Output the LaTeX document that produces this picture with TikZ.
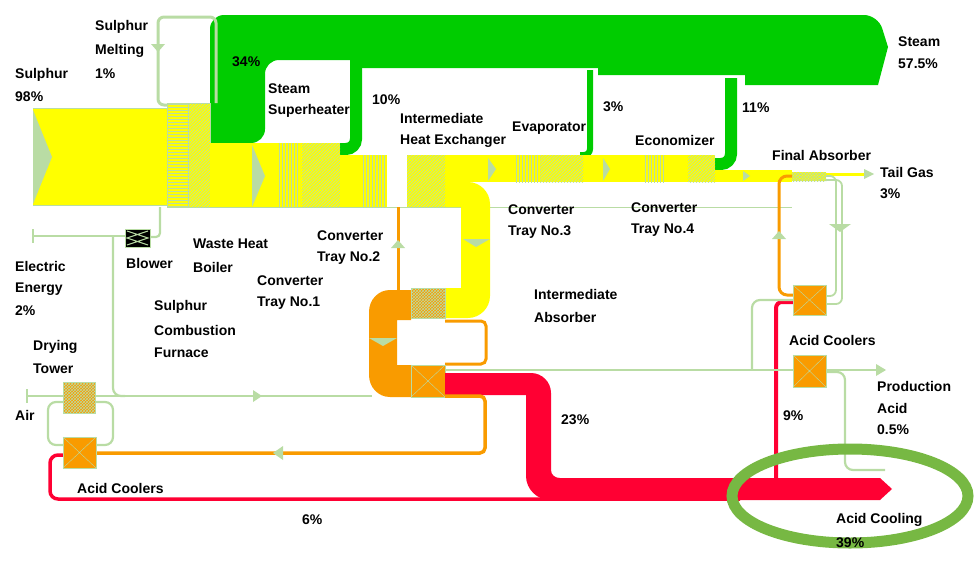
\documentclass[tikz,border=0pt]{standalone}
\usepackage{fontspec}
\setmainfont{Liberation Sans}
\usetikzlibrary{patterns}
\definecolor{Y}{HTML}{FFFF00}
\definecolor{G}{HTML}{00CC00}
\definecolor{LG}{HTML}{B9DCA4}
\definecolor{O}{HTML}{F99B00}
\definecolor{R}{HTML}{FF0033}
\definecolor{EL}{HTML}{77B843}
\begin{document}
\begin{tikzpicture}[x=1pt,y=-1pt,
  lbl/.style={anchor=west,inner sep=0pt,font=\fontsize{14}{16}\selectfont\bfseries,align=left},
  hat/.style={pattern=#1,pattern color=LG},
  lgl/.style={draw=LG,line width=2.2},
  mark/.style={fill=LG},
  obox/.style={fill=O,draw=LG,line width=1}]
\useasboundingbox (0,0) rectangle (980,570);
% ---------- green steam ----------
\fill[G] (210,143) [rounded corners=14] -- (210,15) -- (878,15) [sharp corners] -- (888,47) -- (878,85) -- (745,85) -- (745,75) -- (598,75) -- (598,68) -- (362,68) -- (362,60) [rounded corners=14] -- (265,60) -- (265,143) [sharp corners] -- cycle;
\draw[G,line width=12,rounded corners=10] (356,60) -- (356,149) -- (340,149);
\draw[G,line width=6,rounded corners=6] (590,70) -- (590,155) -- (580,155);
\draw[G,line width=12,rounded corners=10] (731,78) -- (731,164) -- (715,164);
% ---------- yellow gas ----------
\fill[Y] (33,108) rectangle (167,205);
\fill[LG] (33,110) -- (52,157) -- (33,204) -- cycle;
\fill[Y] (167,103) rectangle (210,207);
\fill[hat=horizontal lines] (167,103) rectangle (188,207);
\fill[hat=north east lines] (188,103) rectangle (210,207);
\draw[LG,line width=0.8] (167,103) rectangle (188,207) (188,103) rectangle (210,207);
\fill[Y] (210,143) rectangle (340,207);
\fill[LG] (252,145) -- (265,176) -- (252,207) -- cycle;
\fill[hat=vertical lines] (277,143) rectangle (300,207);
\fill[hat=north east lines] (302,143) rectangle (340,207);
\fill[Y] (340,155) rectangle (445,207);
\fill[hat=vertical lines] (362,155) rectangle (387,207);
\fill[white] (387,155) rectangle (407,207);
\fill[hat=north east lines] (407,155) rectangle (445,207);
\fill[Y] (445,155) rectangle (715,182);
\fill[LG] (488,158) -- (496,169) -- (488,181) -- cycle;
\fill[hat=vertical lines] (515,155) rectangle (540,182);
\fill[hat=north east lines] (540,155) rectangle (583,182);
\fill[LG] (603,158) -- (610,169) -- (603,181) -- cycle;
\fill[hat=vertical lines] (645,155) rectangle (665,182);
\fill[hat=north east lines] (688,155) rectangle (715,182);
\fill[Y] (715,170) rectangle (792,182);
\fill[LG] (743,171) -- (750,176) -- (743,181) -- cycle;
\fill[Y] (792,172) rectangle (826,181);
\fill[hat=crosshatch] (792,172) rectangle (826,181);
\draw[Y,line width=3] (826,174) -- (866,174);
\fill[LG] (864,169) -- (874,174) -- (864,179) -- cycle;
\draw[LG,line width=0.8] (33,108) -- (167,108) (33,205) -- (167,205) (210,207) -- (792,207);
% yellow loop down
\fill[Y] (445,182) -- (468,182) .. controls (480,182) and (490,192) .. (490,204) -- (490,296) .. controls (490,308) and (480,318) .. (468,318) -- (445,318) -- (445,288) -- (461,288) -- (461,207) -- (445,207) -- cycle;
\fill[LG] (463,239) -- (490,239) -- (476,247) -- cycle;
% ---------- orange acid ----------
\draw[O,line width=3] (398,207) -- (398,290);
\fill[LG] (391,248) -- (405,248) -- (398,240) -- cycle;
\fill[O] (411,290) -- (390,290) .. controls (378,290) and (369,300) .. (369,312) -- (369,375) .. controls (369,387) and (378,397) .. (390,397) -- (411,397) -- (411,365) -- (397,365) -- (397,320) -- (411,320) -- cycle;
\fill[LG] (369,338) -- (397,338) -- (383,346) -- cycle;
\draw[O,line width=3,rounded corners=5] (445,321) -- (486,321) -- (486,364) -- (445,364);
\fill[obox] (411,288) rectangle (445,318);
\fill[hat=crosshatch] (411,288) rectangle (445,318);
\draw[obox] (411,365) rectangle (445,397);
\draw[LG] (411,365) -- (445,397) (411,397) -- (445,365);
% red
\fill[R] (445,373) -- (531,373) .. controls (542,373) and (551,382) .. (551,393) -- (551,470) .. controls (551,475) and (555,478) .. (560,478) -- (880,478) -- (892,489) -- (880,500) -- (550,500) .. controls (537,500) and (526,489) .. (526,476) -- (526,395) -- (445,395) -- cycle;
\draw[R,line width=4,rounded corners=6] (793,302) -- (776,302) -- (776,480);
\draw[R,line width=3.5,rounded corners=8] (63,455) -- (50,455) -- (50,499) -- (740,499);
% lower orange return
\draw[O,line width=3.5,rounded corners=5] (445,396) -- (485,396) -- (485,453) -- (96,453);
\fill[LG] (283,446) -- (283,460) -- (273,453) -- cycle;
% air and left side
\draw[lgl] (27,396) -- (372,396);
\draw[lgl] (27,389) -- (27,403);
\fill[LG] (253,390) -- (253,402) -- (262,396) -- cycle;
\draw[lgl,rounded corners=8] (63,402) -- (48,402) -- (48,445) -- (63,445);
\draw[lgl,rounded corners=8] (96,402) -- (113,402) -- (113,445) -- (96,445);
\draw[obox] (63,382) rectangle (95,413);
\fill[hat=crosshatch] (63,382) rectangle (95,413);
\draw[obox] (63,437) rectangle (96,468);
\draw[LG] (63,437) -- (96,468) (63,468) -- (96,437);
\draw[lgl] (33,236) -- (125,236) (33,229) -- (33,243);
\draw[lgl,rounded corners=8] (113,237) -- (113,396) -- (125,396);
\draw[lgl,rounded corners=4] (150,237) -- (160,237) -- (160,207);
\draw[fill=black,draw=LG] (125,229) rectangle (150,247);
\draw[LG,line width=1] (127,231) -- (148,238) -- (127,245) (148,231) -- (127,238) -- (148,245);
\draw[LG,line width=3,rounded corners=6] (167,105) -- (158,105) -- (158,17) -- (216,17) -- (216,103);
\fill[LG] (151,44) -- (165,44) -- (158,52) -- cycle;
% right side
\draw[O,line width=3,rounded corners=8] (792,176) -- (779,176) -- (779,295) -- (793,295);
\fill[LG] (772,239) -- (786,239) -- (779,231) -- cycle;
\draw[LG,line width=1.8,rounded corners=6] (826,176) -- (836,176) -- (836,296) -- (826,296);
\draw[LG,line width=1.8,rounded corners=6] (826,180) -- (842,180) -- (842,304) -- (826,304);
\fill[LG] (829,224) -- (851,224) -- (840,232) -- cycle;
\draw[lgl,rounded corners=8] (793,300) -- (752,300) -- (752,370);
\draw[lgl] (445,370) -- (793,370) (826,370) -- (878,370);
\fill[LG] (876,364) -- (886,370) -- (876,376) -- cycle;
\draw[lgl,rounded corners=8] (826,372) -- (845,372) -- (845,470) -- (885,470);
\draw[obox] (793,285) rectangle (826,315);
\draw[LG] (793,285) -- (826,315) (793,315) -- (826,285);
\draw[obox] (793,355) rectangle (826,387);
\draw[LG] (793,355) -- (826,387) (793,387) -- (826,355);
% ---------- labels ----------
\node[lbl] (l1) at (15,75) {Sulphur};
\node[lbl] (l2) at (15,97) {98\%};
\node[lbl] (l3) at (95,27) {Sulphur};
\node[lbl] (l4) at (95,51) {Melting};
\node[lbl] (l5) at (95,74) {1\%};
\node[lbl] (l6) at (232,62) {34\%};
\node[lbl] (l7) at (268,89) {Steam};
\node[lbl] (l8) at (268,111) {Superheater};
\node[lbl] (l9) at (372,100) {10\%};
\node[lbl] (l10) at (400,118) {Intermediate};
\node[lbl] (l11) at (400,141) {Heat Exchanger};
\node[lbl] (l12) at (512,128) {Evaporator};
\node[lbl] (l13) at (603,107) {3\%};
\node[lbl] (l14) at (635,140) {Economizer};
\node[lbl] (l15) at (742,108) {11\%};
\node[lbl] (l16) at (898,42) {Steam};
\node[lbl] (l17) at (898,64) {57.5\%};
\node[lbl] (l18) at (772,155) {Final Absorber};
\node[lbl] (l19) at (880,172) {Tail Gas};
\node[lbl] (l20) at (880,194) {3\%};
\node[lbl] (l21) at (15,266) {Electric};
\node[lbl] (l22) at (15,289) {Energy};
\node[lbl] (l23) at (15,311) {2\%};
\node[lbl] (l24) at (126,263) {Blower};
\node[lbl] (l25) at (193,244) {Waste Heat};
\node[lbl] (l26) at (193,267) {Boiler};
\node[lbl] (l27) at (317,236) {Converter};
\node[lbl] (l28) at (317,258) {Tray No.2};
\node[lbl] (l29) at (257,281) {Converter};
\node[lbl] (l30) at (257,303) {Tray No.1};
\node[lbl] (l31) at (154,307) {Sulphur};
\node[lbl] (l32) at (154,330) {Combustion};
\node[lbl] (l33) at (154,353) {Furnace};
\node[lbl] (l34) at (33,347) {Drying};
\node[lbl] (l35) at (33,369) {Tower};
\node[lbl] (l36) at (15,415) {Air};
\node[lbl] (l37) at (508,210) {Converter};
\node[lbl] (l38) at (508,232) {Tray No.3};
\node[lbl] (l39) at (631,208) {Converter};
\node[lbl] (l40) at (631,230) {Tray No.4};
\node[lbl] (l41) at (534,294) {Intermediate};
\node[lbl] (l42) at (534,317) {Absorber};
\node[lbl] (l43) at (789,340) {Acid Coolers};
\node[lbl] (l44) at (877,386) {Production};
\node[lbl] (l45) at (877,408) {Acid};
\node[lbl] (l46) at (877,430) {0.5\%};
\node[lbl] (l47) at (561,420) {23\%};
\node[lbl] (l48) at (783,416) {9\%};
\node[lbl] (l49) at (302,520) {6\%};
\node[lbl] (l50) at (77,488) {Acid Coolers};
\draw[EL,line width=11] (850,496) ellipse [x radius=118, y radius=47];
\node[lbl] (l51) at (836,520) {Acid Cooling};
\node[lbl] (l52) at (836,543) {39\%};
\end{tikzpicture}
\end{document}
